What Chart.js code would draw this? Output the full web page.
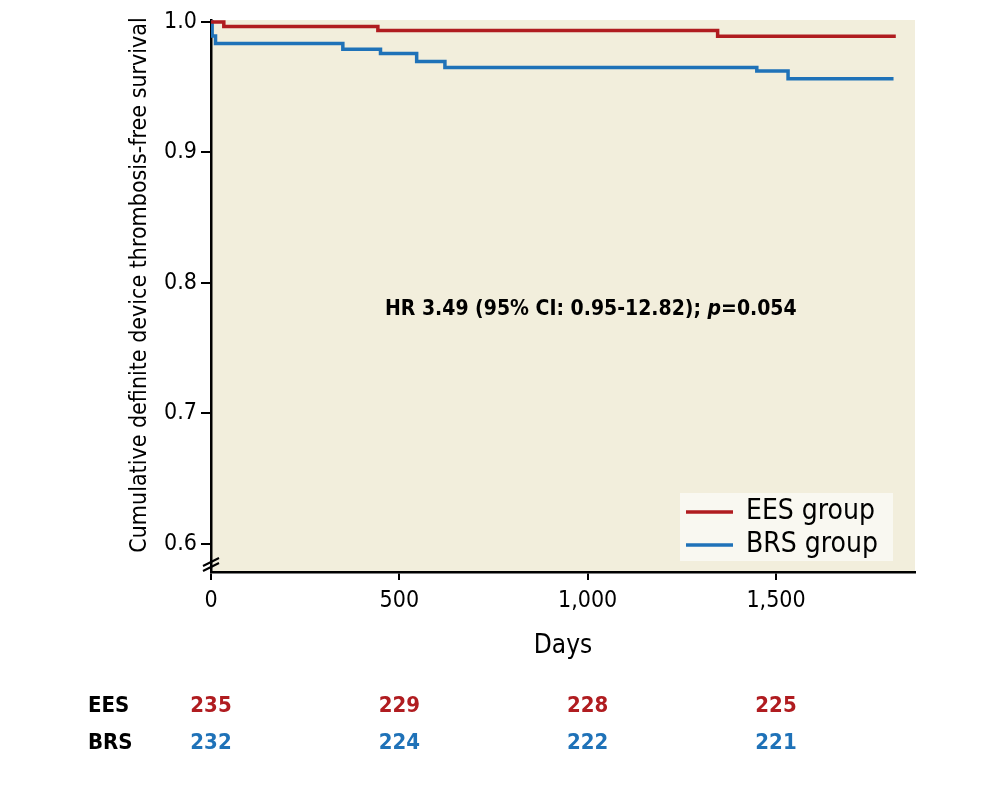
<!DOCTYPE html>
<html>
<head>
<meta charset="utf-8">
<script src="https://cdn.jsdelivr.net/npm/chart.js@4.4.1/dist/chart.umd.min.js"></script>
<style>
  body { margin: 0; background: #ffffff; }
  #wrap { width: 1004px; height: 791px; }
</style>
</head>
<body>
<div id="wrap"><canvas id="kmChart" width="1004" height="791"></canvas></div>
<script>
// Kaplan-Meier steps (day, survival)
const eesDays = [0, 34, 443, 1345, 1818];
const eesSurv = [1.0, 0.9966, 0.9934, 0.9891, 0.9891];
const brsDays = [0, 3, 12, 350, 450, 546, 621, 1449, 1532, 1812];
const brsSurv = [1.0, 0.9893, 0.9835, 0.9791, 0.9758, 0.9697, 0.9651, 0.9625, 0.9565, 0.9565];

const xTicks = [0, 500, 1000, 1500];
const yTicks = [0.6, 0.7, 0.8, 0.9, 1.0];

// numbers at risk, one per x tick
const riskGroups = ['EES', 'BRS'];
const eesRisk = [235, 229, 228, 225];
const brsRisk = [232, 224, 222, 221];

const yTitle = 'Cumulative definite device thrombosis-free survival';

const RED = '#b01c20';
const BLUE = '#1f72b8';
const FONT = '"Liberation Sans Narrow", "DejaVu Sans Condensed", "Roboto", sans-serif';

const toPoints = (days, surv) => days.map((d, i) => ({ x: d, y: surv[i] }));

// beige plot background
const bgPlugin = {
    id: 'bgPlugin',
    beforeDraw: (chart) => {
        const { ctx, chartArea } = chart;
        ctx.save();
        ctx.fillStyle = '#f2eedc';
        ctx.fillRect(chartArea.left, chartArea.top, chartArea.right - chartArea.left, chartArea.bottom - chartArea.top);
        ctx.restore();
    },
};

// legend box, HR text, axis break, y title and at-risk table
const extrasPlugin = {
    id: 'extrasPlugin',
    afterDraw: (chart) => {
        const { ctx, chartArea } = chart;
        const xs = chart.scales.x;
        ctx.save();

        // y axis title (centred a bit above the axis middle, as in the figure)
        ctx.save();
        ctx.translate(140, 285);
        ctx.rotate(-Math.PI / 2);
        ctx.font = '23px ' + FONT;
        ctx.fillStyle = '#000';
        ctx.textAlign = 'center';
        ctx.textBaseline = 'middle';
        ctx.fillText(yTitle, 0, 0);
        ctx.restore();

        // axis break marks
        ctx.strokeStyle = '#000';
        ctx.lineWidth = 2;
        const bx = chartArea.left;
        const by = chartArea.bottom;
        [-10, -5].forEach((off) => {
            ctx.beginPath();
            ctx.moveTo(bx - 8, by + off + 4);
            ctx.lineTo(bx + 8, by + off - 4);
            ctx.stroke();
        });

        // legend
        const lx = 680, ly = 493;
        ctx.fillStyle = '#f9f8f1';
        ctx.fillRect(lx, ly, 213, 68);
        ctx.font = '28px ' + FONT;
        ctx.textBaseline = 'middle';
        ctx.textAlign = 'left';
        chart.data.datasets.forEach((ds, i) => {
            const yy = ly + 19 + i * 33;
            ctx.strokeStyle = ds.borderColor;
            ctx.lineWidth = 3.5;
            ctx.beginPath();
            ctx.moveTo(lx + 6, yy);
            ctx.lineTo(lx + 53, yy);
            ctx.stroke();
            ctx.fillStyle = '#000';
            ctx.fillText(ds.label, lx + 66, yy);
        });

        // hazard ratio text
        let tx = 385;
        const ty = 310;
        ctx.fillStyle = '#000';
        const parts = [
            ['bold 21px ', 'HR 3.49 (95% CI: 0.95-12.82); '],
            ['italic bold 21px ', 'p'],
            ['bold 21px ', '=0.054'],
        ];
        parts.forEach(([f, t]) => {
            ctx.font = f + FONT;
            ctx.fillText(t, tx, ty);
            tx += ctx.measureText(t).width;
        });

        // numbers at risk
        ctx.font = 'bold 22px ' + FONT;
        ctx.fillStyle = '#000';
        ctx.fillText(riskGroups[0], 88, 706);
        ctx.fillText(riskGroups[1], 88, 743);
        ctx.textAlign = 'center';
        xTicks.forEach((t, i) => {
            const px = xs.getPixelForValue(t);
            ctx.fillStyle = RED;
            ctx.fillText(String(eesRisk[i]), px, 706);
            ctx.fillStyle = BLUE;
            ctx.fillText(String(brsRisk[i]), px, 743);
        });
        ctx.restore();
    },
};

const ctx = document.getElementById('kmChart').getContext('2d');
new Chart(ctx, {
    type: 'scatter',
    data: {
        datasets: [
            {
                label: 'EES group',
                data: toPoints(eesDays, eesSurv),
                showLine: true,
                stepped: true,
                borderColor: RED,
                borderWidth: 3.5,
                pointRadius: 0,
                fill: false,
            },
            {
                label: 'BRS group',
                data: toPoints(brsDays, brsSurv),
                showLine: true,
                stepped: true,
                borderColor: BLUE,
                borderWidth: 3.5,
                pointRadius: 0,
                fill: false,
            },
        ],
    },
    options: {
        responsive: false,
        animation: false,
        layout: { padding: { left: 124, top: 20, right: 89, bottom: 129 } },
        plugins: {
            legend: { display: false },
            tooltip: { enabled: false },
        },
        scales: {
            x: {
                type: 'linear',
                min: 0,
                max: 1869,
                afterFit: (s) => { s.height = 90; },
                afterBuildTicks: (s) => { s.ticks = xTicks.map((v) => ({ value: v })); },
                border: { display: true, color: '#000', width: 2.5 },
                grid: { display: true, drawOnChartArea: false, drawTicks: true, tickLength: 8, color: '#000', lineWidth: 2 },
                ticks: {
                    padding: 7,
                    color: '#000',
                    font: { family: FONT, size: 23 },
                    callback: (v) => v.toLocaleString('en-US'),
                },
                title: {
                    display: true,
                    text: 'Days',
                    color: '#000',
                    font: { family: FONT, size: 26 },
                    padding: 0,
                },
            },
            y: {
                type: 'linear',
                min: 0.5785,
                max: 1.0015,
                afterFit: (s) => { s.width = 87; },
                afterBuildTicks: (s) => { s.ticks = yTicks.map((v) => ({ value: v })); },
                border: { display: true, color: '#000', width: 2.5 },
                grid: { display: true, drawOnChartArea: false, drawTicks: true, tickLength: 10, color: '#000', lineWidth: 2 },
                ticks: {
                    padding: 4,
                    color: '#000',
                    font: { family: FONT, size: 23 },
                    callback: (v) => v.toFixed(1),
                },
            },
        },
    },
    plugins: [bgPlugin, extrasPlugin],
});
</script>
</body>
</html>
